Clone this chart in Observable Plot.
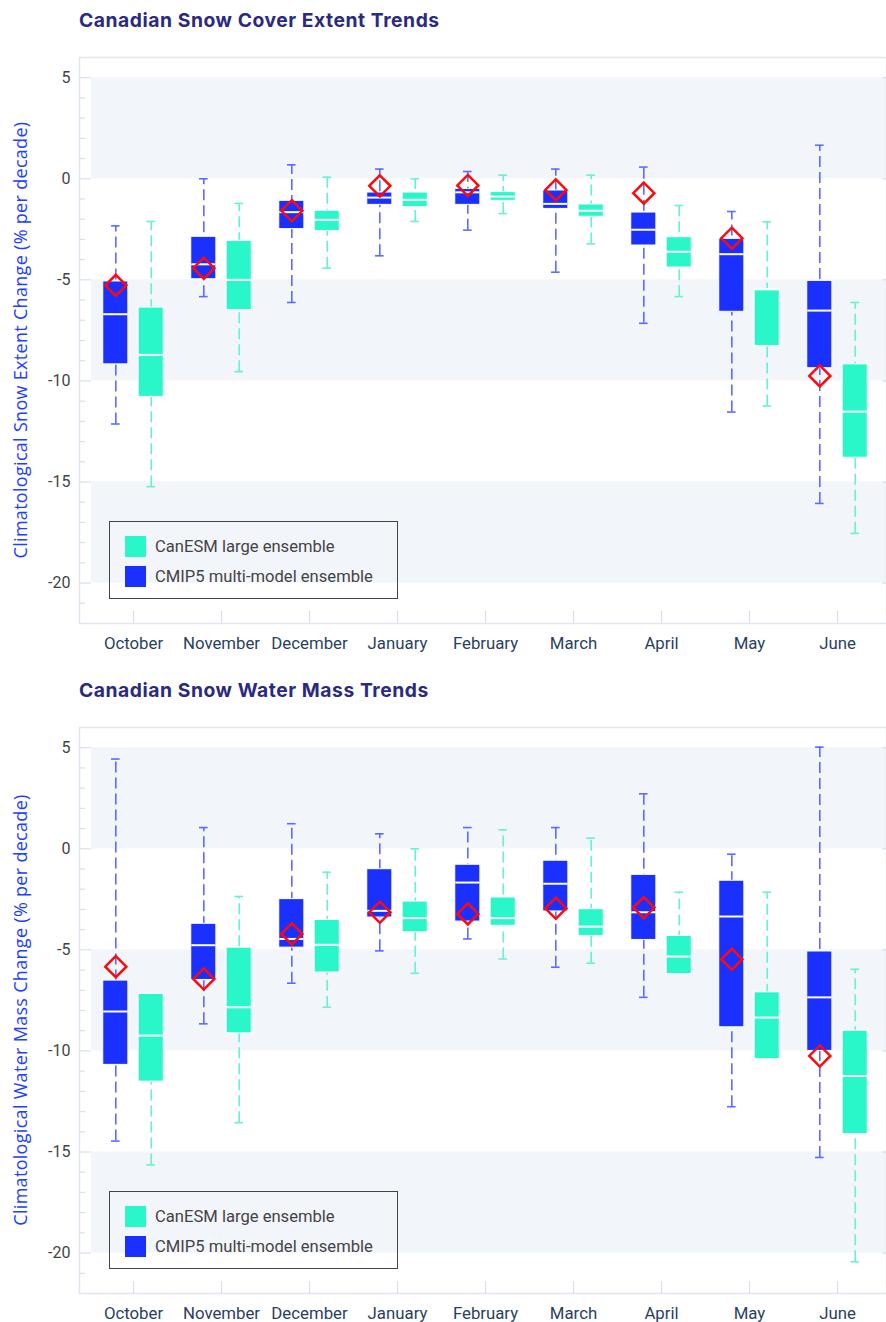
<!DOCTYPE html>
<html><head><meta charset="utf-8">
<script src="https://cdn.jsdelivr.net/npm/d3@7"></script>
<script src="https://cdn.jsdelivr.net/npm/@observablehq/plot@0.6"></script>
<style>
html,body{margin:0;padding:0;overflow:hidden;background:#fff;width:886px;height:1322px}
#root{position:relative;width:886px;height:1322px}
.title{position:absolute;left:79px;font-family:Inter,sans-serif;font-weight:700;font-size:19.3px;letter-spacing:0.55px;color:#2b2a80;white-space:nowrap;line-height:1}
.ylabel{position:absolute;font-family:"Open Sans",sans-serif;font-size:18px;letter-spacing:0.3px;color:#2040ff;white-space:nowrap;line-height:1;transform:translate(-50%,-50%) rotate(-90deg)}
.legend{position:absolute;border:1.5px solid #444;box-sizing:border-box;width:289px;height:78px;font-family:Roboto,sans-serif;font-size:16.6px;color:#444}
.legend .row{position:absolute;left:15px;height:21px;display:flex;align-items:center}
.legend .sw{width:21px;height:21px;margin-right:9px}
.panel{position:absolute;left:0}
</style>
</head><body><div id="root"></div>
<script>
const months = ["October","November","December","January","February","March","April","May","June"];

// Panel 1: Canadian Snow Cover Extent Trends (% per decade)
const sceCmipLow  = [-12.13,-5.83,-6.12,-3.81,-2.54,-4.62,-7.15,-11.54,-16.06];
const sceCmipQ1   = [-9.18,-4.97,-2.49,-1.29,-1.29,-1.49,-3.30,-6.58,-9.37];
const sceCmipMed  = [-6.70,-4.23,-1.65,-0.93,-0.67,-1.24,-2.52,-3.73,-6.52];
const sceCmipQ3   = [-5.08,-2.87,-1.09,-0.68,-0.50,-0.58,-1.67,-2.97,-5.05];
const sceCmipHigh = [-2.33,0.00,0.69,0.48,0.36,0.48,0.58,-1.62,1.66];
const sceObs      = [-5.27,-4.42,-1.58,-0.35,-0.33,-0.55,-0.71,-2.94,-9.75];
const sceCanLow   = [-15.23,-9.54,-4.42,-2.11,-1.72,-3.22,-5.83,-11.24,-17.54];
const sceCanQ1    = [-10.79,-6.49,-2.58,-1.40,-1.09,-1.88,-4.39,-8.27,-13.80];
const sceCanMed   = [-8.71,-5.00,-2.03,-1.04,-0.88,-1.58,-3.61,-5.47,-11.52];
const sceCanQ3    = [-6.37,-3.07,-1.58,-0.68,-0.66,-1.27,-2.89,-5.47,-9.18];
const sceCanHigh  = [-2.11,-1.22,0.08,0.00,0.18,0.18,-1.32,-2.13,-6.12];

// Panel 2: Canadian Snow Water Mass Trends (% per decade)
const swmCmipLow  = [-14.46,-8.66,-6.65,-5.05,-4.46,-5.86,-7.35,-12.76,-15.27];
const swmCmipQ1   = [-10.69,-6.49,-4.89,-3.40,-3.60,-3.10,-4.51,-8.83,-10.00];
const swmCmipMed  = [-8.05,-4.77,-4.46,-3.07,-1.67,-1.73,-3.14,-3.35,-7.35];
const swmCmipQ3   = [-6.52,-3.71,-2.49,-1.01,-0.79,-0.59,-1.29,-1.58,-5.08];
const swmCmipHigh = [4.44,1.05,1.24,0.74,1.05,1.05,2.72,-0.27,5.03];
const swmObs      = [-5.83,-6.44,-4.21,-3.14,-3.22,-2.94,-2.91,-5.46,-10.25];
const swmCanLow   = [-15.64,-13.55,-7.84,-6.16,-5.45,-5.66,-6.20,-10.41,-20.43];
const swmCanQ1    = [-11.52,-9.13,-6.12,-4.13,-3.81,-4.31,-6.20,-10.41,-14.11];
const swmCanMed   = [-9.24,-7.84,-4.75,-3.43,-3.43,-3.85,-5.33,-8.35,-11.24];
const swmCanQ3    = [-7.18,-4.89,-3.52,-2.61,-2.41,-2.99,-4.31,-7.10,-9.00];
const swmCanHigh  = [-7.18,-2.36,-1.16,0.00,0.94,0.53,-2.15,-2.15,-5.96];

const yTicks = [5,0,-5,-10,-15,-20];
const yMinor = [4,3,2,1,-1,-2,-3,-4,-6,-7,-8,-9,-11,-12,-13,-14,-16,-17,-18,-19,-21];
const bandTop = [5,-5,-15];
const bandBottom = [0,-10,-20];
const legendLabels = ["CanESM large ensemble","CMIP5 multi-model ensemble"];
const cmipColor = "#1a30ff", canColor = "#29f7ca";

const W=886, H=630, mL=79, mR=0, mT=17, mB=47;
const fw=W-mL-mR, fh=H-mT-mB;
const xr=[87.5,883.2];
const step=(xr[1]-xr[0])/months.length;
const off=17.7, bw=25.5, capW=9;

function rows(lo,q1,med,q3,hi,obs){
  return months.map((m,i)=>({month:m,lo:lo[i],q1:q1[i],med:med[i],q3:q3[i],hi:hi[i],obs:obs?obs[i]:null}));
}

function boxMarks(data, side, color, wcolor){
  const c = step/2 + side*off;
  const il = c - bw/2, ir = step - c - bw/2;
  const cl = c - capW/2, cr = step - c - capW/2;
  return [
    Plot.ruleX(data,{x:"month",y1:"lo",y2:"hi",dx:side*off,stroke:wcolor,strokeWidth:1.6,strokeDasharray:"11,5"}),
    Plot.tickY(data.filter(d=>d.hi>d.q3+0.05),{x:"month",y:"hi",insetLeft:cl,insetRight:cr,stroke:wcolor,strokeWidth:1.6}),
    Plot.tickY(data.filter(d=>d.lo<d.q1-0.05),{x:"month",y:"lo",insetLeft:cl,insetRight:cr,stroke:wcolor,strokeWidth:1.6}),
    Plot.barY(data,{x:"month",y1:"q1",y2:"q3",insetLeft:il,insetRight:ir,fill:color,stroke:"white",strokeWidth:1}),
    Plot.tickY(data,{x:"month",y:"med",insetLeft:il+0.5,insetRight:ir+0.5,stroke:"white",strokeWidth:2})
  ];
}

function panel(cmip, can){
  const bands = bandTop.map((t,i)=>({y1:t,y2:bandBottom[i]}));
  return Plot.plot({
    width:W,height:H,marginLeft:mL,marginRight:mR,marginTop:mT,marginBottom:mB,
    x:{type:"band",domain:months,range:xr,padding:0},
    y:{domain:[-22,6]},
    style:{fontFamily:"Roboto, sans-serif",fontSize:"16px",background:"transparent",overflow:"visible"},
    marks:[
      Plot.rect(bands,{y1:"y1",y2:"y2",fill:"#f2f5fa",insetLeft:12}),
      Plot.frame({stroke:"#e0e6ef",strokeWidth:1.5}),
      Plot.tickY(yTicks,{y:d=>d,insetRight:fw-12,stroke:"#d9e0ea",strokeWidth:1.2}),
      Plot.tickY(yMinor,{y:d=>d,insetLeft:1,insetRight:fw-6,stroke:"#d9e0ea",strokeWidth:1.2}),
      Plot.tickY(yTicks,{y:d=>d,insetLeft:fw-4,stroke:"#d9e0ea",strokeWidth:1.2}),
      Plot.tickX(months,{x:d=>d,insetTop:fh-12,stroke:"#d9e0ea",strokeWidth:1.2}),
      ...boxMarks(cmip,-1,cmipColor,"#5a6bff"),
      ...boxMarks(can,1,canColor,"#66f2d4"),
      Plot.dot(cmip,{x:"month",y:"obs",dx:-off,symbol:"diamond2",r:9.5,stroke:"#ff0a0a",strokeWidth:2.5,fill:"none"}),
      Plot.axisY({ticks:yTicks,tickSize:0,tickPadding:9,tickFormat:d=>String(d),color:"#444",label:null}),
      Plot.axisX({tickSize:0,tickPadding:14,color:"#2a3f5f",label:null,fontSize:16.8})
    ]
  });
}

const root=document.getElementById("root");
function addPanel(top, title, ylabel, cmip, can){
  const t=document.createElement("div");t.className="title";t.textContent=title;t.style.top=(top+11)+"px";root.appendChild(t);
  const p=document.createElement("div");p.className="panel";p.style.top=(top+40)+"px";p.appendChild(panel(cmip,can));root.appendChild(p);
  const y=document.createElement("div");y.className="ylabel";y.textContent=ylabel;y.style.left="20px";y.style.top=(top+340)+"px";root.appendChild(y);
  const lg=document.createElement("div");lg.className="legend";lg.style.left="109px";lg.style.top=(top+521)+"px";
  [[legendLabels[0],canColor,14],[legendLabels[1],cmipColor,44]].forEach(([txt,col,ty])=>{
    const r=document.createElement("div");r.className="row";r.style.top=ty+"px";
    const s=document.createElement("div");s.className="sw";s.style.background=col;
    const l=document.createElement("span");l.textContent=txt;
    r.appendChild(s);r.appendChild(l);lg.appendChild(r);
  });
  root.appendChild(lg);
}
addPanel(0,"Canadian Snow Cover Extent Trends","Climatological Snow Extent Change (% per decade)",
  rows(sceCmipLow,sceCmipQ1,sceCmipMed,sceCmipQ3,sceCmipHigh,sceObs),
  rows(sceCanLow,sceCanQ1,sceCanMed,sceCanQ3,sceCanHigh,null));
addPanel(670,"Canadian Snow Water Mass Trends","Climatological Water Mass Change (% per decade)",
  rows(swmCmipLow,swmCmipQ1,swmCmipMed,swmCmipQ3,swmCmipHigh,swmObs),
  rows(swmCanLow,swmCanQ1,swmCanMed,swmCanQ3,swmCanHigh,null));
</script></body></html>
